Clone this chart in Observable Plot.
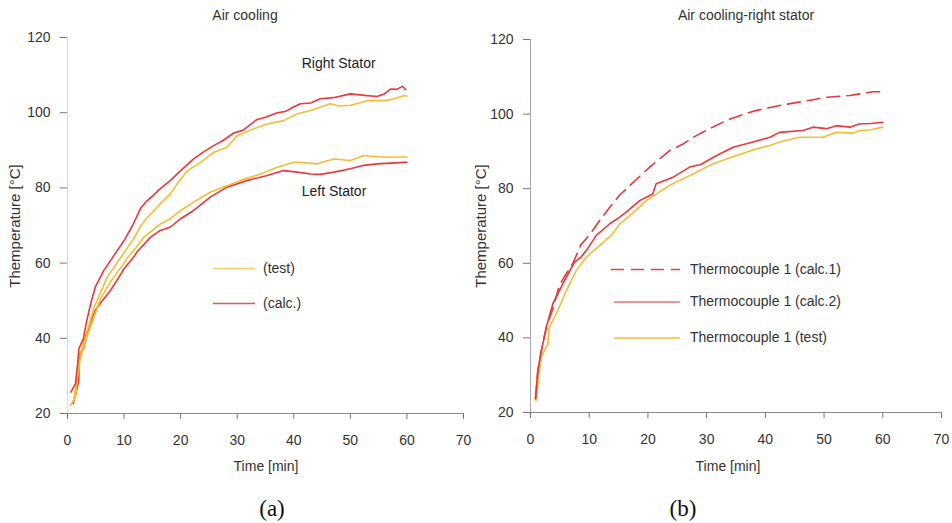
<!DOCTYPE html>
<html>
<head>
<meta charset="utf-8">
<script src="https://cdn.jsdelivr.net/npm/d3@7"></script>
<script src="https://cdn.jsdelivr.net/npm/@observablehq/plot@0.6"></script>
<style>
  body { margin: 0; background: #fff; }
  #wrap { position: relative; width: 952px; height: 523px; background: #fff;
          font-family: "Liberation Sans", Arial, sans-serif; color: #333; overflow: hidden; }
  .panel { position: absolute; top: 0; }
  .t { position: absolute; white-space: nowrap; transform: translate(-50%, -50%); line-height: 1; }
  .l { position: absolute; white-space: nowrap; transform: translate(0, -50%); line-height: 1; font-size: 14px; }
  .cap { font-family: "Liberation Serif", "DejaVu Serif", serif; font-size: 23px; color: #111; }
  .leg { position: absolute; left: 0; top: 0; }
</style>
</head>
<body>
<div id="wrap">
  <div id="pa" class="panel" style="left:0"></div>
  <div id="pb" class="panel" style="left:476px"></div>

  <div class="t" style="left:245px;top:15px;font-size:14px">Air cooling</div>
  <div class="t" style="left:746px;top:15px;font-size:14px">Air cooling-right stator</div>

  <div class="t" style="left:14px;top:226px;font-size:15px;transform:translate(-50%,-50%) rotate(-90deg)">Themperature [°C]</div>
  <div class="t" style="left:480px;top:226px;font-size:15px;transform:translate(-50%,-50%) rotate(-90deg)">Themperature [°C]</div>

  <div class="t" style="left:266px;top:466px;font-size:14px">Time [min]</div>
  <div class="t" style="left:728px;top:466px;font-size:14px">Time [min]</div>

  <div class="t cap" style="left:272px;top:508px">(a)</div>
  <div class="t cap" style="left:683px;top:508px">(b)</div>

  <svg class="leg" width="952" height="523">
    <line x1="213" x2="255" y1="268.5" y2="268.5" stroke="#f7cc66" stroke-width="1.6"/>
    <line x1="213" x2="255" y1="303.5" y2="303.5" stroke="#ee5252" stroke-width="1.6"/>
    <line x1="611" x2="680" y1="269.5" y2="269.5" stroke="#ee4040" stroke-width="1.6" stroke-dasharray="13,7"/>
    <line x1="614" x2="680" y1="302" y2="302" stroke="#f27070" stroke-width="1.6"/>
    <line x1="614" x2="680" y1="338" y2="338" stroke="#f8bd32" stroke-width="1.6"/>
  </svg>
  <div class="l" style="left:263px;top:268px">(test)</div>
  <div class="l" style="left:263px;top:303px">(calc.)</div>
  <div class="l" style="left:690px;top:269px">Thermocouple 1 (calc.1)</div>
  <div class="l" style="left:690px;top:301px">Thermocouple 1 (calc.2)</div>
  <div class="l" style="left:690px;top:337px">Thermocouple 1 (test)</div>
</div>

<script>
// ---- Axis ticks ----
const xTicks = [0, 10, 20, 30, 40, 50, 60, 70];
const yTicks = [20, 40, 60, 80, 100, 120];

// ---- Panel (a): Air cooling ----
// Right stator, calculated
const aRightCalcTime = [0.6, 1.4, 1.8, 2.0, 2.8, 3.4, 4.1, 4.9, 6.4, 8.2, 10.0, 11.5, 12.9, 14.0, 15.3, 16.4, 18.2, 20.0, 22.3, 24.0, 25.9, 27.5, 29.4, 31.0, 33.5, 35.0, 37.1, 38.5, 40.0, 41.2, 43.0, 44.7, 47.0, 50.0, 52.5, 54.7, 56.0, 57.1, 58.2, 59.2, 59.8];
const aRightCalcTemp = [25.7, 27.9, 33.2, 37.2, 39.9, 44.7, 49.2, 53.6, 58.0, 62.0, 66.0, 70.0, 74.5, 76.5, 78.2, 79.8, 82.0, 84.6, 87.7, 89.5, 91.3, 92.6, 94.6, 95.3, 98.2, 98.8, 100.0, 100.3, 101.6, 102.4, 102.6, 103.7, 104.0, 105.0, 104.6, 104.3, 105.0, 106.3, 106.2, 107.0, 106.1];
// Right stator, test
const aRightTestTime = [1.1, 1.8, 2.0, 2.6, 3.2, 3.8, 4.65, 5.2, 7.0, 9.4, 10.3, 11.7, 13.0, 14.1, 15.0, 16.4, 18.2, 19.4, 21.2, 23.5, 25.9, 28.2, 30.0, 32.9, 35.3, 38.2, 40.6, 43.0, 44.7, 46.5, 48.0, 50.0, 53.0, 55.9, 57.5, 59.5, 60.0];
const aRightTestTemp = [23.5, 30.5, 35.0, 37.6, 41.0, 43.4, 48.0, 50.0, 56.2, 61.5, 63.4, 66.5, 70.0, 72.2, 73.5, 75.8, 78.4, 81.1, 84.6, 86.8, 89.5, 90.8, 93.9, 95.7, 97.0, 97.9, 99.7, 100.6, 101.5, 102.4, 101.8, 102.0, 103.2, 103.2, 103.6, 104.6, 104.4];
// Left stator, test
const aLeftTestTime = [0.5, 1.4, 1.8, 2.3, 3.2, 4.4, 5.8, 7.6, 10.0, 10.5, 12.3, 13.5, 16.4, 18.2, 20.0, 22.3, 25.3, 28.2, 30.6, 34.1, 37.1, 40.0, 41.2, 44.1, 47.1, 50.0, 52.4, 55.3, 59.5, 60.0];
const aLeftTestTemp = [22.1, 24.3, 30.0, 35.0, 39.4, 44.5, 50.4, 55.0, 60.0, 61.2, 64.5, 66.9, 70.4, 71.8, 74.0, 76.2, 78.9, 80.6, 82.0, 83.7, 85.5, 86.8, 86.8, 86.4, 87.7, 87.3, 88.6, 88.2, 88.2, 88.2];
// Left stator, calculated
const aLeftCalcTime = [1.0, 1.6, 2.0, 2.05, 2.9, 3.8, 4.9, 5.8, 7.6, 9.4, 10.0, 11.7, 12.3, 14.7, 16.4, 18.2, 20.0, 22.3, 25.3, 28.2, 31.8, 35.3, 38.2, 40.6, 43.0, 44.7, 47.1, 50.0, 52.4, 54.7, 59.5, 60.0];
const aLeftCalcTemp = [22.6, 26.1, 28.8, 34.7, 37.6, 42.9, 47.4, 49.3, 52.7, 57.0, 58.5, 61.6, 63.0, 66.9, 68.7, 69.6, 71.8, 74.0, 77.6, 80.2, 82.0, 83.3, 84.6, 84.2, 83.7, 83.6, 84.2, 85.1, 86.0, 86.4, 86.8, 86.8];

// ---- Panel (b): Air cooling - right stator ----
const bCalc1Time = [0.85, 1.25, 1.8, 2.7, 3.8, 4.9, 6.0, 7.2, 8.6, 10.0, 11.8, 13.5, 15.2, 17.5, 20.3, 23.7, 26.0, 28.3, 31.0, 33.4, 36.0, 38.5, 42.4, 46.4, 50.4, 54.4, 58.3, 60.0];
const bCalc1Temp = [23.7, 31.3, 36.2, 42.9, 47.8, 54.0, 57.0, 59.9, 65.0, 67.5, 71.5, 75.0, 78.3, 81.7, 85.8, 90.2, 92.0, 94.3, 96.5, 98.3, 99.8, 101.0, 102.3, 103.4, 104.5, 105.0, 106.0, 106.0];
const bCalc2Time = [0.85, 1.25, 1.8, 2.7, 3.8, 5.5, 7.5, 8.5, 9.5, 11.2, 13.5, 15.2, 16.3, 18.6, 20.8, 21.4, 24.3, 27.1, 29.0, 31.7, 34.5, 37.9, 40.8, 42.4, 46.4, 48.1, 50.4, 52.1, 54.4, 56.1, 58.0, 60.0];
const bCalc2Temp = [23.7, 31.3, 36.2, 42.9, 49.1, 54.5, 60.3, 61.5, 63.4, 67.5, 70.6, 72.4, 73.7, 76.8, 78.6, 81.3, 83.1, 85.8, 86.5, 88.9, 91.1, 92.5, 93.8, 95.1, 95.6, 96.5, 96.1, 96.9, 96.5, 97.4, 97.5, 97.8];
const bTestTime = [0.95, 1.8, 2.95, 3.2, 4.65, 6.1, 7.8, 9.5, 11.8, 14.0, 15.2, 16.6, 16.9, 19.7, 23.7, 26.6, 31.1, 35.1, 38.5, 40.8, 42.4, 45.8, 49.8, 52.1, 55.0, 56.1, 58.0, 60.0];
const bTestTemp = [23.2, 34.8, 38.4, 42.9, 47.3, 52.7, 58.1, 61.6, 64.8, 67.9, 70.6, 72.4, 72.8, 76.8, 80.9, 83.1, 86.7, 88.9, 90.7, 91.6, 92.5, 93.8, 93.8, 95.1, 94.9, 95.6, 95.8, 96.5];

// ---- Annotations (data units; text starts at this point) ----
const annotText = ["Right Stator", "Left Stator"];
const annotTime = [41.4, 41.4];
const annotTemp = [113.1, 79.0];

const RED = "#ea373c";
const YELLOW = "#f6bd33";

const zip = (ts, vs) => ts.map((t, i) => ({t, v: vs[i]}));

function panel({marginLeft, marginRight, marginTop, marginBottom, yLineColor, series, annotations}) {
  const marks = [
    Plot.ruleX([0], {stroke: yLineColor, strokeWidth: 1}),
    Plot.ruleY([20], {stroke: "#8a8a8a", strokeWidth: 1.2, insetLeft: -6}),
    Plot.axisY({ticks: yTicks, tickSize: 7, tickPadding: 10, stroke: "#777", fill: "#333", fontSize: 14, label: null}),
    Plot.axisX({ticks: xTicks, tickSize: 6, tickPadding: 16, stroke: "#777", fill: "#333", fontSize: 14, label: null}),
    ...series.map(s => Plot.line(zip(s.time, s.temp), {
      x: "t", y: "v", stroke: s.color, strokeWidth: 1.6, strokeDasharray: s.dash || null, curve: "linear"
    }))
  ];
  if (annotations) {
    marks.push(Plot.text(annotations, {x: "t", y: "v", text: "s", fontSize: 14, fill: "#222", textAnchor: "start"}));
  }
  return Plot.plot({
    width: 476, height: 523,
    marginLeft, marginRight, marginTop, marginBottom,
    x: {domain: [0, 70]},
    y: {domain: [20, 120]},
    style: {fontFamily: "'Liberation Sans', Arial, sans-serif", fontSize: "14px", background: "transparent", overflow: "visible"},
    marks
  });
}

document.getElementById("pa").append(panel({
  marginLeft: 67, marginRight: 13, marginTop: 37, marginBottom: 110,
  yLineColor: "#dcdcdc",
  series: [
    {time: aLeftCalcTime, temp: aLeftCalcTemp, color: RED},
    {time: aLeftTestTime, temp: aLeftTestTemp, color: YELLOW},
    {time: aRightTestTime, temp: aRightTestTemp, color: YELLOW},
    {time: aRightCalcTime, temp: aRightCalcTemp, color: RED}
  ],
  annotations: annotText.map((s, i) => ({s, t: annotTime[i], v: annotTemp[i]}))
}));

document.getElementById("pb").append(panel({
  marginLeft: 54, marginRight: 11, marginTop: 39, marginBottom: 111,
  yLineColor: "#a8a8a8",
  series: [
    {time: bTestTime, temp: bTestTemp, color: YELLOW},
    {time: bCalc2Time, temp: bCalc2Temp, color: RED},
    {time: bCalc1Time, temp: bCalc1Temp, color: RED, dash: "13,7"}
  ]
}));
</script>
</body>
</html>
